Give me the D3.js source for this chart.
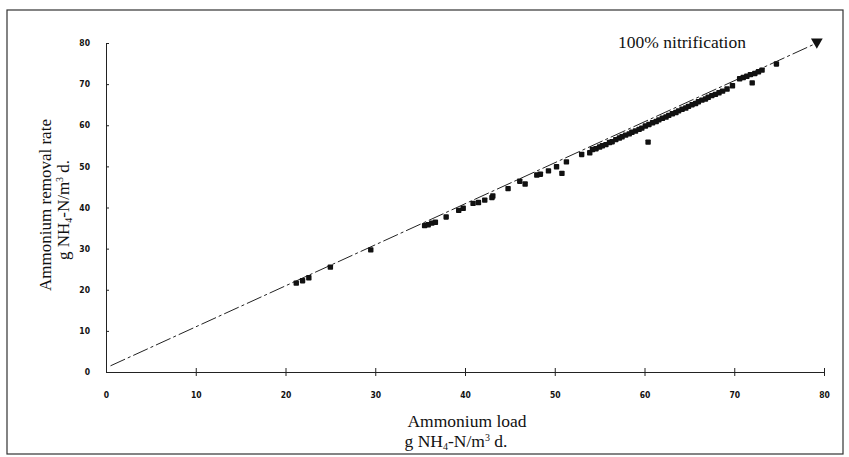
<!DOCTYPE html>
<html>
<head>
<meta charset="utf-8">
<script src="https://cdn.jsdelivr.net/npm/d3@7.9.0/dist/d3.min.js"></script>
<style>
  body { margin: 0; background: #fff; }
  .lbl { font-family: "Liberation Serif", "Times New Roman", serif; fill: #111; }
  .tick text { font-family: "DejaVu Sans Condensed", "DejaVu Sans", sans-serif; font-weight: bold; font-size: 8.5px; fill: #111; }
</style>
</head>
<body>
<svg id="chart" width="849" height="457"></svg>
<script>
// ammonium load (x) and removal rate (y)
const loadX = [21.2, 21.9, 22.6, 25.0, 29.5, 35.5, 35.9, 36.3, 36.7, 37.9,
  39.3, 39.8, 40.9, 41.5, 42.2, 43.0, 43.1, 44.8, 46.1, 46.7,
  48.0, 48.4, 49.3, 50.2, 50.8, 51.3, 53.0, 53.9, 54.2, 54.6,
  55.0, 55.3, 55.7, 56.1, 56.4, 56.8, 57.2, 57.5, 57.9, 58.3,
  58.6, 59.0, 59.4, 59.7, 60.1, 60.4, 60.5, 60.9, 61.3, 61.6,
  62.0, 62.4, 62.7, 63.1, 63.5, 63.8, 64.2, 64.6, 64.9, 65.3,
  65.7, 66.0, 66.4, 66.8, 67.1, 67.5, 67.9, 68.3, 68.7, 69.2,
  69.8, 70.6, 71.0, 71.4, 71.8, 72.0, 72.3, 72.7, 73.1, 74.7];
const removalY = [21.6, 22.2, 22.9, 25.5, 29.7, 35.6, 35.8, 36.2, 36.4, 37.7,
  39.3, 39.8, 41.0, 41.2, 41.8, 42.4, 42.8, 44.6, 46.4, 45.7,
  47.9, 48.1, 48.9, 49.9, 48.3, 51.1, 52.9, 53.3, 54.1, 54.3,
  54.7, 55.0, 55.3, 55.8, 56.0, 56.5, 56.9, 57.2, 57.6, 57.9,
  58.3, 58.6, 59.0, 59.3, 59.8, 55.9, 60.2, 60.6, 60.9, 61.3,
  61.7, 62.0, 62.4, 62.8, 63.1, 63.5, 63.9, 64.2, 64.6, 65.0,
  65.3, 65.7, 66.1, 66.4, 66.8, 67.2, 67.5, 67.9, 68.3, 68.8,
  69.6, 71.3, 71.6, 71.9, 72.3, 70.3, 72.6, 73.0, 73.4, 74.9];

// 100% nitrification reference line
const refX = [0.5, 79.2];
const refY = [1.5, 80];

const xTicks = [0, 10, 20, 30, 40, 50, 60, 70, 80];
const yTicks = [0, 10, 20, 30, 40, 50, 60, 70, 80];

const svg = d3.select('#chart');

svg.append('rect')
  .attr('x', 7).attr('y', 10)
  .attr('width', 836).attr('height', 444)
  .attr('fill', 'none').attr('stroke', '#333').attr('stroke-width', 1.2);

const x = d3.scaleLinear().domain([0, 80]).range([106, 824]);
const y = d3.scaleLinear().domain([0, 80]).range([372, 43]);

// axes
const yAxis = svg.append('g')
  .attr('transform', `translate(${x(0)},0)`)
  .call(d3.axisLeft(y).tickValues(yTicks).tickSizeInner(-3).tickSizeOuter(0).tickPadding(16));
yAxis.select('.domain').attr('stroke', '#222');
yAxis.selectAll('.tick line').attr('stroke', '#222');

const xAxis = svg.append('g')
  .attr('transform', `translate(0,${y(0)})`)
  .call(d3.axisBottom(x).tickValues(xTicks).tickSizeInner(4).tickSizeOuter(0).tickPadding(16));
xAxis.select('.domain').attr('stroke', '#222');
xAxis.selectAll('.tick line').attr('y1', -4).attr('stroke', '#222');
xAxis.selectAll('.tick').filter(d => d === 0).select('line').remove();

// reference line
const refPts = refX.map((v, i) => [x(v), y(refY[i])]);
svg.append('path')
  .attr('d', d3.line()(refPts))
  .attr('fill', 'none')
  .attr('stroke', '#222')
  .attr('stroke-width', 1)
  .attr('stroke-dasharray', '16,3,3,3');

svg.append('path')
  .attr('d', d3.symbol().type(d3.symbolTriangle).size(60)())
  .attr('transform', `translate(${x(refX[1])},${y(refY[1]) - 1}) rotate(180)`)
  .attr('fill', '#111');

// data points
svg.append('g').selectAll('rect')
  .data(loadX.map((v, i) => [v, removalY[i]]))
  .join('rect')
  .attr('x', d => x(d[0]) - 2.7)
  .attr('y', d => y(d[1]) - 2.7)
  .attr('width', 5.4).attr('height', 5.4)
  .attr('rx', 0.8)
  .attr('fill', '#111');

// labels
svg.append('text').attr('class', 'lbl')
  .attr('x', 682).attr('y', 48)
  .attr('text-anchor', 'middle')
  .attr('font-size', 17.5)
  .text('100% nitrification');

const yl = svg.append('text').attr('class', 'lbl')
  .attr('transform', 'rotate(-90)')
  .attr('text-anchor', 'middle')
  .attr('font-size', 17);
yl.append('tspan').attr('x', -205).attr('y', 51).text('Ammonium removal rate');
yl.append('tspan').attr('x', -210).attr('y', 69).text('g NH');
yl.append('tspan').attr('font-size', 10).attr('dy', 3).text('4');
yl.append('tspan').attr('dy', -3).text('-N/m');
yl.append('tspan').attr('font-size', 10).attr('dy', -6).text('3');
yl.append('tspan').attr('dy', 6).text(' d.');

const xl = svg.append('text').attr('class', 'lbl')
  .attr('text-anchor', 'middle')
  .attr('font-size', 17.5);
xl.append('tspan').attr('x', 467).attr('y', 427).text('Ammonium load');
xl.append('tspan').attr('x', 456).attr('y', 447).text('g NH');
xl.append('tspan').attr('font-size', 10).attr('dy', 3).text('4');
xl.append('tspan').attr('dy', -3).text('-N/m');
xl.append('tspan').attr('font-size', 10).attr('dy', -6).text('3');
xl.append('tspan').attr('dy', 6).text(' d.');
</script>
</body>
</html>
